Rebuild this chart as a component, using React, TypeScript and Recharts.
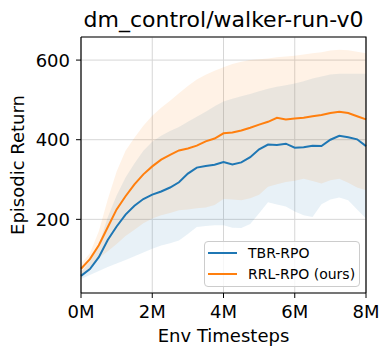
import React from 'react';
import { ComposedChart, Line, Area, XAxis, YAxis, CartesianGrid, Legend, ReferenceLine } from 'recharts';

const steps = [0, 0.25, 0.5, 0.75, 1, 1.25, 1.5, 1.75, 2, 2.25, 2.5, 2.75, 3, 3.25, 3.5, 3.75, 4, 4.25, 4.5, 4.75, 5, 5.25, 5.5, 5.75, 6, 6.25, 6.5, 6.75, 7, 7.25, 7.5, 7.75, 8];
const blueMean = [58, 75, 105, 148, 182, 212, 234, 251, 262, 270, 280, 293, 315, 330, 334, 337, 344, 338, 343, 356, 376, 388, 387, 390, 380, 381, 385, 384, 400, 410, 406, 401, 384];
const blueLow = [50, 60, 70, 80, 89, 98, 107, 117, 126, 134, 140, 147, 163, 181, 183, 185, 185, 179, 178, 188, 215, 243, 237, 232, 220, 210, 206, 238, 250, 255, 248, 225, 202];
const blueHigh = [67, 95, 135, 205, 260, 305, 340, 372, 395, 410, 422, 432, 445, 458, 470, 484, 496, 503, 509, 515, 522, 528, 533, 537, 541, 547, 554, 559, 564, 566, 566, 566, 566];
const orangeMean = [76, 100, 135, 180, 225, 258, 288, 313, 333, 350, 362, 373, 378, 385, 396, 403, 416, 418, 423, 430, 438, 445, 455, 451, 453, 455, 459, 462, 467, 470, 467, 459, 451];
const orangeLow = [55, 80, 102, 120, 138, 158, 174, 190, 202, 210, 216, 223, 225, 228, 230, 236, 251, 250, 248, 253, 262, 282, 288, 294, 297, 302, 296, 290, 298, 302, 292, 280, 273];
const orangeHigh = [88, 115, 170, 250, 320, 372, 405, 435, 460, 480, 498, 517, 535, 551, 563, 573, 582, 590, 596, 600, 602, 604, 607, 609, 611, 614, 617, 620, 624, 626, 625, 621, 617];

const xTicks = [0, 2, 4, 6, 8];
const yTicks = [200, 400, 600];
const xDomain = [0, 8];
const yDomain = [15, 658];
const seriesNames = ['TBR-RPO', 'RRL-RPO (ours)'];
const titleText = 'dm_control/walker-run-v0';
const xLabel = 'Env Timesteps';
const yLabel = 'Episodic Return';

const BLUE = '#1f77b4';
const ORANGE = '#ff7f0e';
const FONT = 'DejaVu Sans';
const CHART_W = 390;
const CHART_H = 356;
const M_TOP = 37;
const M_RIGHT = 24;
const Y_AXIS_W = 81;
const X_AXIS_H = 63;
const PLOT_LEFT = Y_AXIS_W;
const PLOT_RIGHT = CHART_W - M_RIGHT;
const PLOT_TOP = M_TOP;
const PLOT_BOTTOM = CHART_H - X_AXIS_H;

const data = steps.map((s, i) => ({
  x: s,
  blue: blueMean[i],
  orange: orangeMean[i],
  blueBand: [blueLow[i], blueHigh[i]],
  orangeBand: [orangeLow[i], orangeHigh[i]],
}));

const legendColors = [BLUE, ORANGE];

const LegendBox = () => (
  <div
    style={{
      position: 'relative',
      width: 156,
      height: 46,
      boxSizing: 'border-box',
      border: '1px solid #cccccc',
      borderRadius: 4,
      background: 'rgba(255,255,255,0.8)',
      fontFamily: FONT,
      fontSize: 14,
      color: '#000',
    }}
  >
    {seriesNames.map((n, i) => (
      <div key={n} style={{ position: 'absolute', left: 0, top: 2 + i * 20.6, height: 18, width: 154 }}>
        <svg width={34} height={18} style={{ position: 'absolute', left: 0, top: 0 }}>
          <line x1={3} x2={32} y1={9} y2={9} stroke={legendColors[i]} strokeWidth={2} />
        </svg>
        <span style={{ position: 'absolute', left: 43, top: 0, lineHeight: '18px', whiteSpace: 'nowrap' }}>{n}</span>
      </div>
    ))}
  </div>
);

const XTick = (props: any) => {
  const { x, y, payload } = props;
  return (
    <text x={x} y={y} dy={13} textAnchor="middle" fontSize={18} fontFamily={FONT} fill="#000">
      {`${payload.value}M`}
    </text>
  );
};

const YTick = (props: any) => {
  const { x, y, payload } = props;
  return (
    <text x={x} y={y} dy={6.5} textAnchor="end" fontSize={18} fontFamily={FONT} fill="#000">
      {payload.value}
    </text>
  );
};

export default function App() {
  return (
    <div style={{ position: 'absolute', left: 0, top: 0, width: CHART_W, height: CHART_H, background: '#fff' }}>
      <ComposedChart
        width={CHART_W}
        height={CHART_H}
        data={data}
        margin={{ top: M_TOP, right: M_RIGHT, bottom: 0, left: 0 }}
        style={{ fontFamily: FONT }}
      >
        <CartesianGrid stroke="#d6d6d6" strokeWidth={1} />
        <Area
          dataKey="blueBand"
          stroke="none"
          fill={BLUE}
          fillOpacity={0.1}
          isAnimationActive={false}
          activeDot={false}
          legendType="none"
        />
        <Area
          dataKey="orangeBand"
          stroke="none"
          fill={ORANGE}
          fillOpacity={0.1}
          isAnimationActive={false}
          activeDot={false}
          legendType="none"
        />
        <Line dataKey="blue" name={seriesNames[0]} stroke={BLUE} strokeWidth={2} dot={false} isAnimationActive={false} />
        <Line dataKey="orange" name={seriesNames[1]} stroke={ORANGE} strokeWidth={2} dot={false} isAnimationActive={false} />
        <XAxis
          dataKey="x"
          type="number"
          domain={xDomain}
          ticks={xTicks}
          height={X_AXIS_H}
          tickSize={5}
          tickMargin={7}
          axisLine={{ stroke: '#000', strokeWidth: 1.2 }}
          tickLine={{ stroke: '#000', strokeWidth: 1 }}
          tick={<XTick />}
          interval={0}
          label={(props: any) => (
            <text
              x={(PLOT_LEFT + PLOT_RIGHT) / 2}
              y={342}
              textAnchor="middle"
              fontSize={18}
              fontFamily={FONT}
              fill="#000"
            >
              {xLabel}
            </text>
          )}
        />
        <YAxis
          type="number"
          domain={yDomain}
          ticks={yTicks}
          allowDataOverflow
          width={Y_AXIS_W}
          tickSize={5}
          tickMargin={6}
          axisLine={{ stroke: '#000', strokeWidth: 1.2 }}
          tickLine={{ stroke: '#000', strokeWidth: 1 }}
          tick={<YTick />}
          interval={0}
          label={(props: any) => {
            const cy = (PLOT_TOP + PLOT_BOTTOM) / 2;
            return (
              <g>
                <path
                  d={`M${PLOT_LEFT},${PLOT_TOP} L${PLOT_RIGHT},${PLOT_TOP} L${PLOT_RIGHT},${PLOT_BOTTOM}`}
                  fill="none"
                  stroke="#000000"
                  strokeWidth={1.2}
                />
                <text
                  x={24}
                  y={cy}
                  textAnchor="middle"
                  fontSize={18}
                  fontFamily={FONT}
                  fill="#000"
                  transform={`rotate(-90, 24, ${cy})`}
                >
                  {yLabel}
                </text>
                <text
                  x={(PLOT_LEFT + PLOT_RIGHT) / 2}
                  y={27}
                  textAnchor="middle"
                  fontSize={22}
                  fontFamily={FONT}
                  fill="#000"
                >
                  {titleText}
                </text>
              </g>
            );
          }}
        />
        <Legend
          layout="horizontal"
          verticalAlign="middle"
          align="center"
          content={() => <LegendBox />}
          wrapperStyle={{ left: 204, top: 241, width: 156, height: 46 }}
        />
      </ComposedChart>
    </div>
  );
}
